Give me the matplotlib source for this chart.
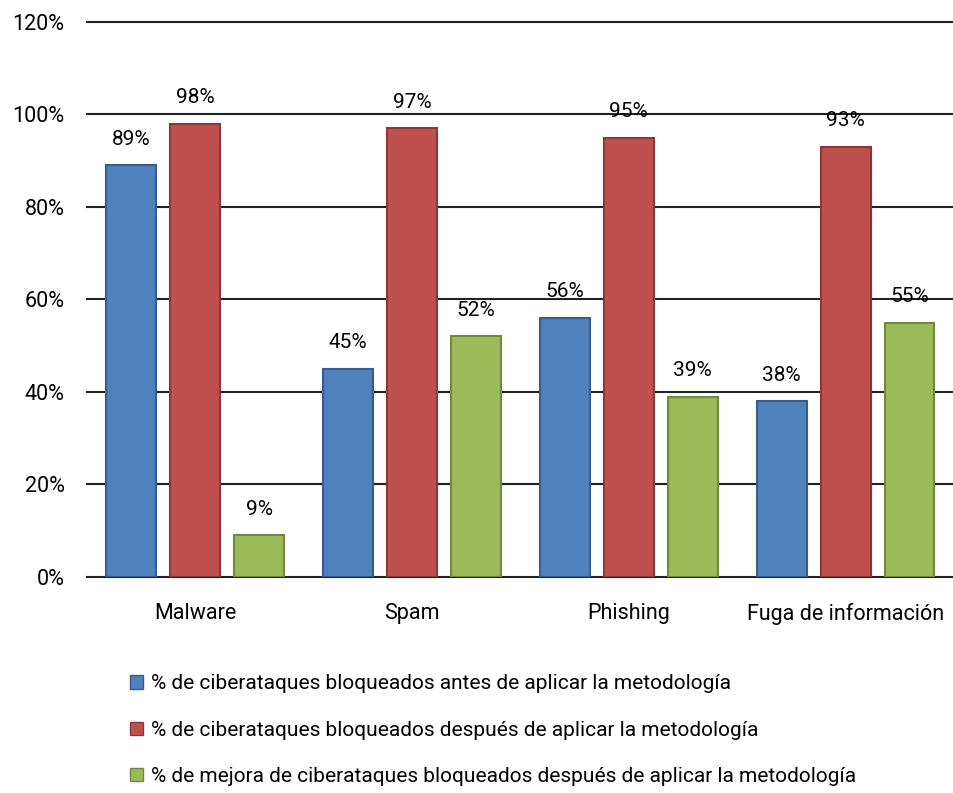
import matplotlib.pyplot as plt
from matplotlib.patches import Patch
import numpy as np

plt.rcParams['font.family'] = ['Roboto', 'DejaVu Sans']

categorias = ['Malware', 'Spam', 'Phishing', 'Fuga de información']
antes = [89, 45, 56, 38]
despues = [98, 97, 95, 93]
mejora = [9, 52, 39, 55]
series = [
    ('% de ciberataques bloqueados antes de aplicar la metodología', antes),
    ('% de ciberataques bloqueados después de aplicar la metodología', despues),
    ('% de mejora de ciberataques bloqueados después de aplicar la metodología', mejora),
]
colores = ['#4F81BD', '#C0504D', '#9BBB59']
bordes = ['#385D8A', '#8C3836', '#71893F']

fig = plt.figure(figsize=(9.54, 7.93), dpi=100)
ax = fig.add_axes([0.091, 0.2724, 0.909, 0.70])

x = np.arange(len(categorias))
ancho = 0.23
offsets = [-0.295, 0, 0.295]

handles = []
for (nombre, vals), off, c, b in zip(series, offsets, colores, bordes):
    barras = ax.bar(x + off, vals, ancho, color=c, edgecolor=b, linewidth=1.5, zorder=3)
    for r, v in zip(barras, vals):
        ax.annotate(f'{v}%', (r.get_x() + r.get_width() / 2, v),
                    xytext=(0, 12), textcoords='offset points',
                    ha='center', va='bottom', fontsize=15)
    handles.append(Patch(facecolor=c, edgecolor=b, label=nombre))

ax.set_xlim(-0.5, len(categorias) - 0.5)
ax.set_ylim(0, 120)
ax.set_yticks(range(0, 121, 20))
ax.set_yticklabels([f'{t}%' for t in range(0, 121, 20)], fontsize=15.5)
ax.set_xticks(x)
ax.set_xticklabels(categorias, fontsize=15.5)
ax.tick_params(axis='y', length=0, pad=16)
ax.tick_params(axis='x', length=0, pad=19)
ax.grid(axis='y', color='#222222', linewidth=1.5, zorder=0)
for gl in ax.get_ygridlines():
    gl.set_clip_on(False)
for s in ax.spines.values():
    s.set_visible(False)

fig.legend(handles=handles, loc='upper left', bbox_to_anchor=(0.128, 0.16),
           frameon=False, fontsize=15, handlelength=0.6, handleheight=0.6,
           handletextpad=0.4, labelspacing=1.3, borderaxespad=0)

fig.savefig('out.png', dpi=100)
